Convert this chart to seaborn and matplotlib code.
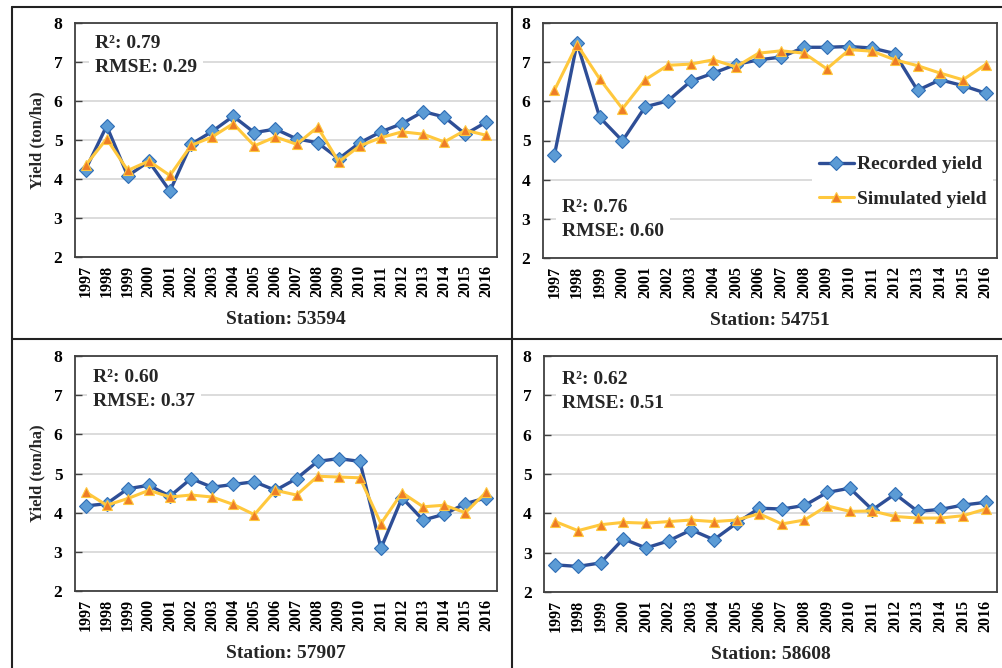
import numpy as np
import pandas as pd
import matplotlib
matplotlib.use('Agg')
import matplotlib.pyplot as plt
import matplotlib.transforms as mtransforms
from matplotlib.lines import Line2D
import seaborn as sns

# data
years = ['1997', '1998', '1999', '2000', '2001', '2002', '2003', '2004', '2005', '2006',
         '2007', '2008', '2009', '2010', '2011', '2012', '2013', '2014', '2015', '2016']
stations = ['53594', '54751', '57907', '58608']
r2_vals = ['0.79', '0.76', '0.60', '0.62']
rmse_vals = ['0.29', '0.60', '0.37', '0.51']

recorded_53594 = [4.24, 5.36, 4.08, 4.45, 3.69, 4.89, 5.22, 5.61, 5.19, 5.28,
                  5.03, 4.93, 4.52, 4.93, 5.21, 5.42, 5.73, 5.59, 5.15, 5.46]
simulated_53594 = [4.35, 5.03, 4.22, 4.46, 4.09, 4.86, 5.08, 5.42, 4.85, 5.08,
                   4.89, 5.33, 4.44, 4.85, 5.06, 5.21, 5.15, 4.95, 5.25, 5.12]

recorded_54751 = [4.62, 7.49, 5.59, 4.99, 5.86, 6.01, 6.51, 6.72, 6.94, 7.06,
                  7.13, 7.38, 7.38, 7.40, 7.36, 7.22, 6.28, 6.55, 6.40, 6.21]
simulated_54751 = [6.28, 7.45, 6.57, 5.81, 6.55, 6.92, 6.95, 7.06, 6.88, 7.23,
                   7.29, 7.23, 6.83, 7.32, 7.28, 7.06, 6.91, 6.72, 6.55, 6.94]

recorded_57907 = [4.17, 4.23, 4.61, 4.70, 4.42, 4.87, 4.65, 4.72, 4.79, 4.57,
                  4.87, 5.31, 5.38, 5.31, 3.09, 4.38, 3.81, 3.96, 4.23, 4.38]
simulated_57907 = [4.53, 4.19, 4.36, 4.57, 4.40, 4.45, 4.40, 4.21, 3.95, 4.57,
                   4.45, 4.93, 4.91, 4.89, 3.72, 4.51, 4.15, 4.19, 4.00, 4.53]

recorded_58608 = [2.69, 2.65, 2.74, 3.35, 3.12, 3.30, 3.58, 3.33, 3.75, 4.13,
                  4.11, 4.20, 4.53, 4.64, 4.09, 4.49, 4.05, 4.10, 4.21, 4.28]
simulated_58608 = [3.79, 3.56, 3.71, 3.77, 3.75, 3.79, 3.83, 3.79, 3.83, 3.99,
                   3.73, 3.83, 4.19, 4.05, 4.06, 3.92, 3.88, 3.88, 3.94, 4.11]

recorded = [recorded_53594, recorded_54751, recorded_57907, recorded_58608]
simulated = [simulated_53594, simulated_54751, simulated_57907, simulated_58608]

# styling
BLUE_LINE = '#2E4E96'
BLUE_FACE = '#5B9BD5'
BLUE_EDGE = '#2F6DB5'
YEL_LINE = '#FFC83D'
ORANGE_FACE = '#EE7D26'
SPINE = '#404040'
GRID = '#D9D9D9'

sns.set_theme(style='white')
plt.rcParams['font.family'] = ['Liberation Serif', 'DejaVu Serif']
plt.rcParams['font.weight'] = 'bold'
plt.rcParams['axes.labelweight'] = 'bold'

fig = plt.figure(figsize=(10.02, 6.68), dpi=100)
W, H = 1002.0, 668.0

# axes boxes in pixels: left, right, top, bottom
boxes = [(75, 497, 23, 257), (543, 997, 23, 258), (75, 497, 356, 591), (544, 997, 356, 592)]
# text offsets (dx, dy of R2 line, dy of RMSE line) from axes top-left, pixels
text_offs = [(20, 20, 45), (19, 184, 209), (18, 22, 46), (18, 23, 47)]

for i in range(4):
    l, r, t, b = boxes[i]
    ax = fig.add_axes([l / W, 1 - b / H, (r - l) / W, (b - t) / H])

    df = pd.DataFrame({'pos': np.arange(len(years)), 'Year': years,
                       'Recorded yield': recorded[i], 'Simulated yield': simulated[i]})

    sns.lineplot(data=df, x='pos', y='Recorded yield', ax=ax, errorbar=None, legend=False,
                 color=BLUE_LINE, lw=2.4, marker='D', markersize=7,
                 markerfacecolor=BLUE_FACE, markeredgecolor=BLUE_EDGE, markeredgewidth=0.8,
                 label='Recorded yield', zorder=3)
    sns.lineplot(data=df, x='pos', y='Simulated yield', ax=ax, errorbar=None, legend=False,
                 color=YEL_LINE, lw=2.2, marker='^', markersize=7.5,
                 markerfacecolor=ORANGE_FACE, markeredgecolor=YEL_LINE, markeredgewidth=0.8,
                 label='Simulated yield', zorder=4)

    ax.set_xlim(-0.5, len(years) - 0.5)
    ax.set_ylim(2, 8)
    ax.set_yticks([2, 3, 4, 5, 6, 7, 8])
    ax.set_xticks(np.arange(len(years)))
    ax.set_xticklabels(years, rotation=90, fontsize=11.5, fontweight='bold')
    ax.set_xticks(np.arange(0.5, len(years) - 1, 1), minor=True)
    ax.tick_params(axis='x', which='major', length=0, pad=6, colors='black')
    ax.tick_params(axis='x', which='minor', direction='in', length=5, width=1, color=SPINE)
    ax.tick_params(axis='y', direction='in', length=5, width=1, color=SPINE,
                   labelsize=12.5, pad=9, labelcolor='black', left=True)
    for lab in ax.get_yticklabels():
        lab.set_fontweight('bold')

    ax.grid(axis='y', color=GRID, lw=1.3)
    ax.set_axisbelow(True)
    for sp in ax.spines.values():
        sp.set_color(SPINE)
        sp.set_linewidth(1.3)

    ax.set_xlabel('Station: ' + stations[i], fontsize=14, fontweight='bold', labelpad=10)
    if i in (0, 2):
        ax.set_ylabel('Yield (ton/ha)', fontsize=12, fontweight='bold', labelpad=6)
    else:
        ax.set_ylabel('')

    dx, dy1, dy2 = text_offs[i]
    tr1 = ax.transAxes + mtransforms.ScaledTranslation(dx / 100, -dy1 / 100, fig.dpi_scale_trans)
    tr2 = ax.transAxes + mtransforms.ScaledTranslation(dx / 100, -dy2 / 100, fig.dpi_scale_trans)
    ax.text(0, 1, 'R²: ' + r2_vals[i], transform=tr1, va='center', ha='left',
            fontsize=14, fontweight='bold', zorder=5,
            bbox=dict(facecolor='white', edgecolor='none', pad=2))
    ax.text(0, 1, 'RMSE: ' + rmse_vals[i], transform=tr2, va='center', ha='left',
            fontsize=14, fontweight='bold', zorder=5,
            bbox=dict(facecolor='white', edgecolor='none', pad=4))

    if i == 1:
        leg = ax.legend(loc='upper left', bbox_to_anchor=(812 / W, 1 - 149 / H),
                        bbox_transform=fig.transFigure, fontsize=14, frameon=True,
                        fancybox=False, edgecolor='none', facecolor='white', framealpha=1,
                        handlelength=1.8, handletextpad=0.15, labelspacing=0.85,
                        borderpad=0.35, borderaxespad=0)
        for txt in leg.get_texts():
            txt.set_fontweight('bold')

# panel frame lines
frame = dict(transform=fig.transFigure, color='#222222', lw=1.5)
fig.add_artist(Line2D([12 / W, 1], [1 - 7 / H, 1 - 7 / H], **frame))
fig.add_artist(Line2D([12 / W, 12 / W], [0, 1 - 7 / H], **frame))
fig.add_artist(Line2D([512 / W, 512 / W], [0, 1 - 7 / H], **frame))
fig.add_artist(Line2D([12 / W, 1], [1 - 339 / H, 1 - 339 / H], **frame))

fig.savefig('out.png', dpi=100, facecolor='white')
